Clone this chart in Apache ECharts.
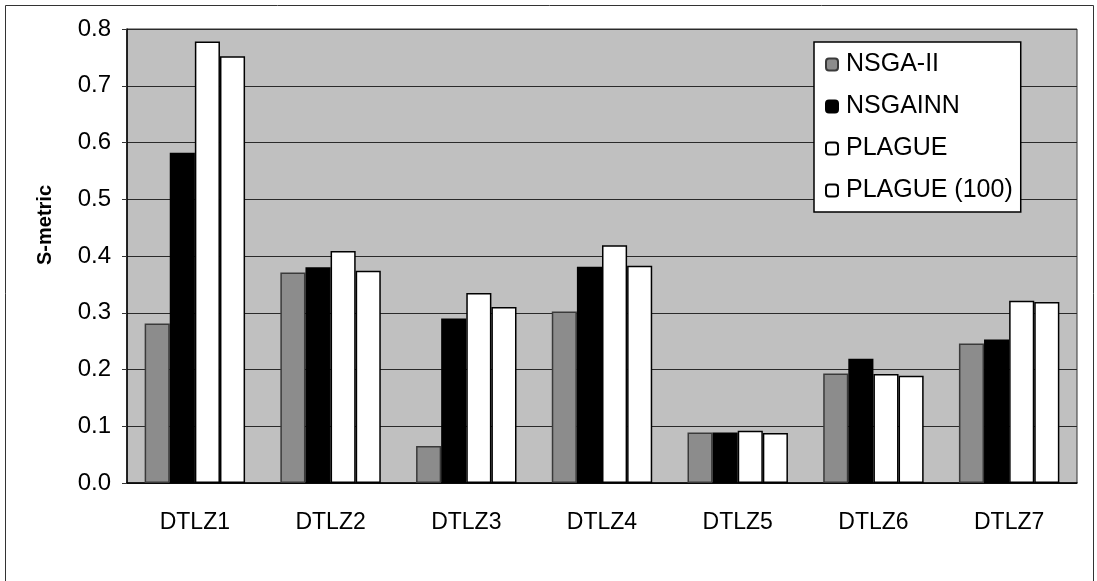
<!DOCTYPE html>
<html>
<head>
<meta charset="utf-8">
<script src="https://cdn.jsdelivr.net/npm/echarts@6/dist/echarts.min.js"></script>
<style>
html,body{margin:0;padding:0;background:#fff;}
#chart{width:1097px;height:581px;}
</style>
</head>
<body>
<div id="chart"></div>
<script>
const categories = ['DTLZ1','DTLZ2','DTLZ3','DTLZ4','DTLZ5','DTLZ6','DTLZ7'];
const seriesNames = ['NSGA-II','NSGAINN','PLAGUE','PLAGUE (100)'];
const nsga2 = [0.281, 0.371, 0.065, 0.302, 0.089, 0.193, 0.246];
const nsgainn = [0.582, 0.380, 0.290, 0.381, 0.089, 0.219, 0.253];
const plague = [0.778, 0.409, 0.335, 0.419, 0.092, 0.192, 0.321];
const plague100 = [0.752, 0.374, 0.310, 0.383, 0.088, 0.189, 0.319];
const yTicks = [0.0,0.1,0.2,0.3,0.4,0.5,0.6,0.7,0.8];

const FONT = '"Liberation Sans", Arial, sans-serif';
const fills = ['#8c8c8c','#000000','#ffffff','#ffffff'];
const borders = ['#3a3a3a','#000000','#000000','#000000'];
const dataSets = [nsga2, nsgainn, plague, plague100];

const chart = echarts.init(document.getElementById('chart'));
chart.setOption({
  animation: false,
  backgroundColor: '#ffffff',
  textStyle: {fontFamily: FONT, color: '#000'},
  graphic: [{
    type: 'rect', z: -10,
    shape: {x: 5.5, y: 5.5, width: 1088, height: 600},
    style: {fill: 'none', stroke: '#333', lineWidth: 1}
  }],
  grid: {
    left: 127, right: 20, top: 29, bottom: 98,
    show: true, backgroundColor: '#c0c0c0', borderColor: '#333', borderWidth: 1
  },
  legend: {
    orient: 'vertical',
    left: 814, top: 42,
    backgroundColor: '#ffffff',
    borderColor: '#000', borderWidth: 1.5,
    padding: [10, 8, 9, 11],
    itemWidth: 12, itemHeight: 12,
    itemGap: 17,
    textStyle: {fontFamily: FONT, fontSize: 25, color: '#000', padding: [0, 0, 0, 3]},
    data: seriesNames
  },
  xAxis: {
    type: 'category',
    data: categories,
    axisLine: {lineStyle: {color: '#000', width: 1.5}},
    axisTick: {length: 5, lineStyle: {color: '#333'}},
    axisLabel: {fontFamily: FONT, fontSize: 23, color: '#000', margin: 28}
  },
  yAxis: {
    type: 'value',
    min: 0, max: 0.8, interval: 0.1,
    name: 'S-metric',
    nameLocation: 'middle',
    nameGap: 72,
    nameRotate: 90,
    nameTextStyle: {fontFamily: FONT, fontSize: 20, fontWeight: 'bold', color: '#000', padding: [0,0,0,62]},
    axisLine: {show: true, lineStyle: {color: '#000', width: 1.5}},
    axisTick: {show: true, length: 5, lineStyle: {color: '#333'}},
    axisLabel: {fontFamily: FONT, fontSize: 24, color: '#000', margin: 16,
      formatter: v => yTicks.includes(Math.round(v*10)/10) ? v.toFixed(1) : ''},
    splitLine: {lineStyle: {color: '#2a2a2a', width: 1}}
  },
  series: seriesNames.map((n, i) => ({
    name: n,
    type: 'bar',
    data: dataSets[i],
    barGap: '0%',
    barCategoryGap: '26%',
    itemStyle: {color: fills[i], borderColor: borders[i], borderWidth: 1.5}
  }))
});
</script>
</body>
</html>
